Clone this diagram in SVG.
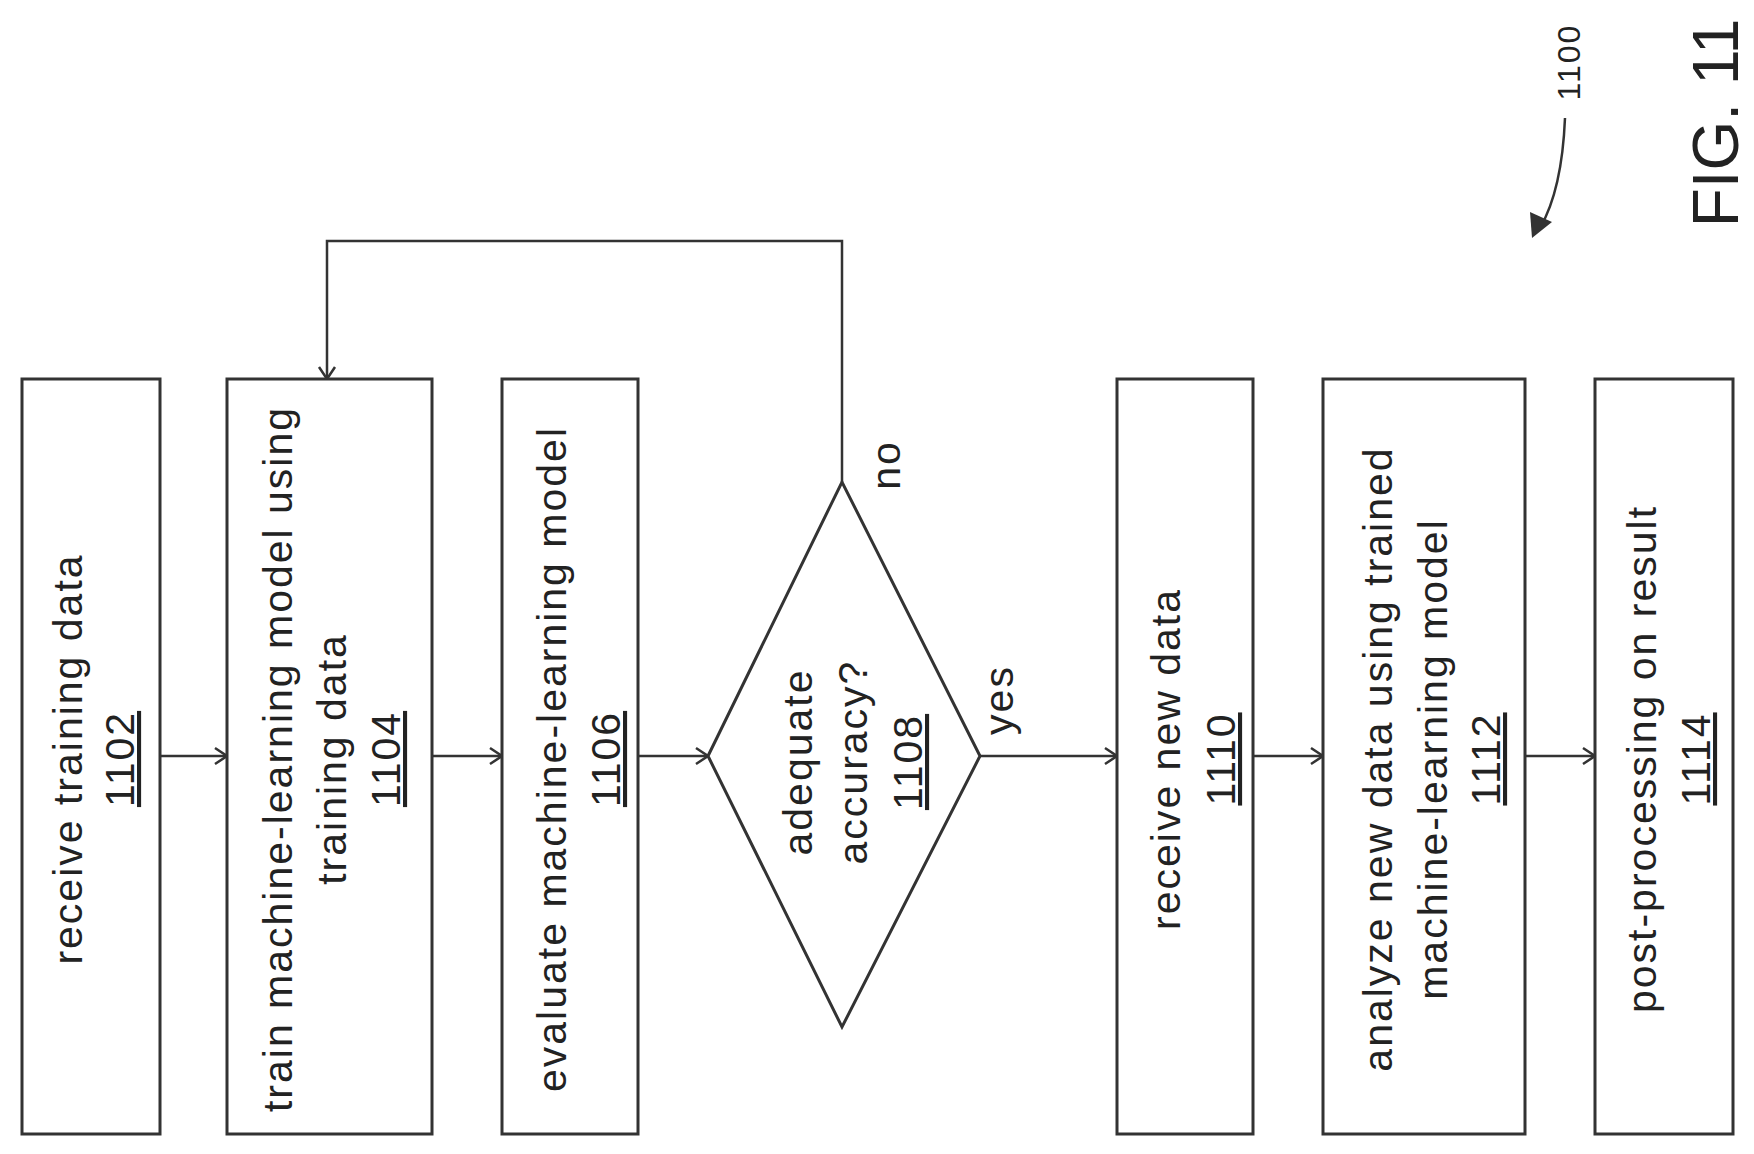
<svg xmlns="http://www.w3.org/2000/svg" width="1754" height="1154" viewBox="0 0 1754 1154">
<style>
.b{fill:#fff;stroke:#333;stroke-width:3}
.c{fill:none;stroke:#333;stroke-width:2.5}
text{font-family:"Liberation Sans",Arial,sans-serif;font-size:41px;letter-spacing:2px;fill:#222;text-anchor:middle}
.u{text-decoration:underline}
</style>
<defs><marker id="a" markerWidth="20" markerHeight="20" refX="18" refY="10" orient="auto" markerUnits="userSpaceOnUse"><polyline points="6,2 18,10 6,18" fill="none" stroke="#333" stroke-width="2.5"/></marker></defs>
<rect width="1754" height="1154" fill="#fff"/>
<g id="connectors">
<line class="c" x1="160" y1="756" x2="227" y2="756" marker-end="url(#a)"/>
<line class="c" x1="432" y1="756" x2="502" y2="756" marker-end="url(#a)"/>
<line class="c" x1="638" y1="756" x2="708" y2="756" marker-end="url(#a)"/>
<line class="c" x1="980" y1="756" x2="1117" y2="756" marker-end="url(#a)"/>
<line class="c" x1="1253" y1="756" x2="1323" y2="756" marker-end="url(#a)"/>
<line class="c" x1="1525" y1="756" x2="1595" y2="756" marker-end="url(#a)"/>
<polyline class="c" points="842,482 842,241 327,241 327,379" marker-end="url(#a)"/>
<text transform="translate(900,465) rotate(-90)">no</text>
<text transform="translate(1013,700) rotate(-90)">yes</text>
</g>
<g id="n1102"><rect class="b" x="22" y="379" width="138" height="755"/>
<text transform="translate(82,759) rotate(-90)">receive training data</text>
<text class="u" transform="translate(134,759) rotate(-90)">1102</text></g>
<g id="n1104"><rect class="b" x="227" y="379" width="205" height="755"/>
<text transform="translate(292,759) rotate(-90)">train machine-learning model using</text>
<text transform="translate(346,759) rotate(-90)">training data</text>
<text class="u" transform="translate(400,759) rotate(-90)">1104</text></g>
<g id="n1106"><rect class="b" x="502" y="379" width="136" height="755"/>
<text transform="translate(566,759) rotate(-90)">evaluate machine-learning model</text>
<text class="u" transform="translate(620,759) rotate(-90)">1106</text></g>
<g id="n1108"><polygon class="b" points="708,756 842,482 980,756 842,1027"/>
<text transform="translate(812,762) rotate(-90)">adequate</text>
<text transform="translate(867,762) rotate(-90)">accuracy?</text>
<text class="u" transform="translate(922,762) rotate(-90)">1108</text></g>
<g id="n1110"><rect class="b" x="1117" y="379" width="136" height="755"/>
<text transform="translate(1180,759) rotate(-90)">receive new data</text>
<text class="u" transform="translate(1235,759) rotate(-90)">1110</text></g>
<g id="n1112"><rect class="b" x="1323" y="379" width="202" height="755"/>
<text transform="translate(1392,759) rotate(-90)">analyze new data using trained</text>
<text transform="translate(1447,759) rotate(-90)">machine-learning model</text>
<text class="u" transform="translate(1500,759) rotate(-90)">1112</text></g>
<g id="n1114"><rect class="b" x="1595" y="379" width="138" height="755"/>
<text transform="translate(1656,759) rotate(-90)">post-processing on result</text>
<text class="u" transform="translate(1710,759) rotate(-90)">1114</text></g>
<g id="ref">
<text style="font-size:32px" transform="translate(1580,62) rotate(-90)">1100</text>
<path d="M1565,118 Q1562,190 1540,228" fill="none" stroke="#333" stroke-width="2.5"/>
<polygon points="1532,238 1530,212 1552,222" fill="#333"/>
<text style="font-size:64px;letter-spacing:0" transform="translate(1738,123) rotate(-90)">FIG. 11</text>
</g>
</svg>
